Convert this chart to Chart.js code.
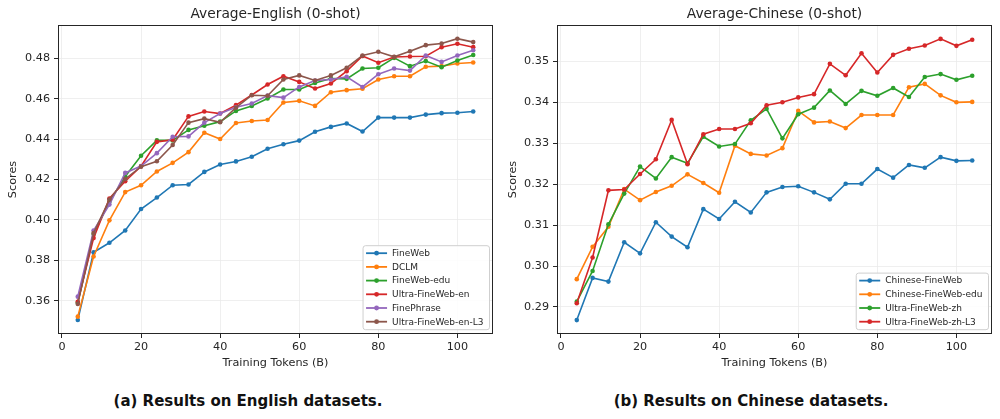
<!DOCTYPE html>
<html>
<head>
<meta charset="utf-8">
<script src="https://cdn.jsdelivr.net/npm/chart.js@4.4.1/dist/chart.umd.min.js"></script>
<style>
  body { margin: 0; background: #fff; width: 1000px; height: 419px; position: relative; overflow: hidden; }
  .panel { position: absolute; top: 0; width: 500px; height: 370px; }
  .caption { position: absolute; top: 392px; width: 500px; text-align: center;
             font: bold 15px "DejaVu Sans", sans-serif; color: #111; }
</style>
</head>
<body>
<div class="panel" style="left:0"><canvas id="enChart" width="500" height="370"></canvas></div>
<div class="panel" style="left:500px"><canvas id="zhChart" width="500" height="370"></canvas></div>
<div class="caption" style="left:-2px">(a) Results on English datasets.</div>
<div class="caption" style="left:501px">(b) Results on Chinese datasets.</div>
<script>
// training tokens (B) at each checkpoint
const tokens = [4, 8, 12, 16, 20, 24, 28, 32, 36, 40, 44, 48, 52, 56, 60, 64, 68, 72, 76, 80, 84, 88, 92, 96, 100, 104];
const xTicks = [0, 20, 40, 60, 80, 100];

// ---- English ----
const enNames = ["FineWeb", "DCLM", "FineWeb-edu", "Ultra-FineWeb-en", "FinePhrase", "Ultra-FineWeb-en-L3"];
const fineWeb = [0.3504, 0.3840, 0.3887, 0.3948, 0.4054, 0.4111, 0.4172, 0.4176, 0.4238, 0.4275, 0.4290, 0.4313, 0.4353, 0.4375, 0.4393, 0.4437, 0.4461, 0.4478, 0.4438, 0.4507, 0.4507, 0.4507, 0.4522, 0.4529, 0.4531, 0.4537];
const dclm = [0.3521, 0.3819, 0.3998, 0.4138, 0.4172, 0.4240, 0.4283, 0.4336, 0.4432, 0.4401, 0.4480, 0.4490, 0.4495, 0.4582, 0.4590, 0.4565, 0.4633, 0.4643, 0.4650, 0.4696, 0.4712, 0.4712, 0.4759, 0.4762, 0.4775, 0.4780];
const fineWebEdu = [0.3590, 0.3930, 0.4090, 0.4215, 0.4318, 0.4394, 0.4394, 0.4446, 0.4467, 0.4487, 0.4540, 0.4565, 0.4602, 0.4646, 0.4646, 0.4679, 0.4701, 0.4699, 0.4750, 0.4754, 0.4803, 0.4762, 0.4787, 0.4757, 0.4790, 0.4817];
const ultraEn = [0.3595, 0.3910, 0.4106, 0.4192, 0.4266, 0.4387, 0.4397, 0.4513, 0.4537, 0.4527, 0.4569, 0.4619, 0.4671, 0.4712, 0.4684, 0.4651, 0.4676, 0.4737, 0.4812, 0.4779, 0.4807, 0.4810, 0.4811, 0.4856, 0.4873, 0.4856];
const finePhrase = [0.3620, 0.3948, 0.4076, 0.4233, 0.4267, 0.4331, 0.4412, 0.4414, 0.4482, 0.4527, 0.4558, 0.4577, 0.4616, 0.4606, 0.4659, 0.4691, 0.4696, 0.4709, 0.4659, 0.4722, 0.4750, 0.4740, 0.4815, 0.4783, 0.4815, 0.4841];
const ultraEnL3 = [0.3584, 0.3935, 0.4101, 0.4203, 0.4264, 0.4291, 0.4371, 0.4482, 0.4502, 0.4484, 0.4556, 0.4618, 0.4615, 0.4696, 0.4716, 0.4691, 0.4716, 0.4754, 0.4815, 0.4833, 0.4808, 0.4836, 0.4866, 0.4874, 0.4898, 0.4881];
const enYTicks = [0.36, 0.38, 0.40, 0.42, 0.44, 0.46, 0.48];

// ---- Chinese ----
const zhNames = ["Chinese-FineWeb", "Chinese-FineWeb-edu", "Ultra-FineWeb-zh", "Ultra-FineWeb-zh-L3"];
const chineseFineWeb = [0.2868, 0.2971, 0.2962, 0.3058, 0.3031, 0.3107, 0.3072, 0.3046, 0.3139, 0.3115, 0.3157, 0.3131, 0.3180, 0.3193, 0.3195, 0.3180, 0.3163, 0.3201, 0.3201, 0.3237, 0.3216, 0.3247, 0.3240, 0.3266, 0.3257, 0.3258];
const chineseFineWebEdu = [0.2968, 0.3047, 0.3096, 0.3188, 0.3161, 0.3181, 0.3196, 0.3224, 0.3203, 0.3179, 0.3294, 0.3274, 0.3270, 0.3288, 0.3379, 0.3351, 0.3353, 0.3337, 0.3369, 0.3369, 0.3369, 0.3437, 0.3445, 0.3417, 0.3400, 0.3401];
const ultraZh = [0.2913, 0.2988, 0.3102, 0.3177, 0.3243, 0.3214, 0.3266, 0.3251, 0.3316, 0.3292, 0.3298, 0.3356, 0.3384, 0.3312, 0.3371, 0.3387, 0.3429, 0.3396, 0.3428, 0.3416, 0.3435, 0.3413, 0.3462, 0.3469, 0.3455, 0.3465];
const ultraZhL3 = [0.2909, 0.3021, 0.3185, 0.3187, 0.3225, 0.3261, 0.3357, 0.3249, 0.3322, 0.3335, 0.3335, 0.3349, 0.3393, 0.3400, 0.3412, 0.3420, 0.3494, 0.3466, 0.3520, 0.3473, 0.3516, 0.3531, 0.3539, 0.3555, 0.3538, 0.3553];
const zhYTicks = [0.29, 0.30, 0.31, 0.32, 0.33, 0.34, 0.35];

const colors = ["#1f77b4", "#ff7f0e", "#2ca02c", "#d62728", "#9467bd", "#8c564b"];
const FONT = '"DejaVu Sans", sans-serif';
const INK = "#262626";

// full box around the plot, like matplotlib spines
const framePlugin = {
    id: "frame",
    afterDatasetsDraw(chart) {
        const { ctx, chartArea: a } = chart;
        const l = Math.round(a.left) + 0.5, t = Math.round(a.top) + 0.5;
        const r = Math.round(a.right) - 0.5, b = Math.round(a.bottom) - 0.5;
        ctx.save();
        ctx.strokeStyle = INK;
        ctx.lineWidth = 1;
        ctx.strokeRect(l, t, r - l, b - t);
        ctx.restore();
    }
};

// legend box in the lower right corner of the plot
const cornerLegend = {
    id: "cornerLegend",
    afterDraw(chart) {
        const { ctx, chartArea: a } = chart;
        const sets = chart.data.datasets;
        ctx.save();
        ctx.font = "9px " + FONT;
        const textW = Math.max(...sets.map(d => ctx.measureText(d.label).width));
        const rowH = 13.7;
        const w = 29 + textW + 6;
        const h = 15.5 + (sets.length - 1) * rowH;
        const x0 = a.right - 3.5 - w;
        const y0 = a.bottom - 4.3 - h;

        ctx.beginPath();
        ctx.roundRect(x0, y0, w, h, 2.5);
        ctx.fillStyle = "rgba(255,255,255,0.85)";
        ctx.fill();
        ctx.strokeStyle = "#cfcfcf";
        ctx.lineWidth = 1;
        ctx.stroke();

        sets.forEach((d, i) => {
            const y = y0 + 7.5 + i * rowH;
            ctx.strokeStyle = d.borderColor;
            ctx.lineWidth = 1.8;
            ctx.beginPath();
            ctx.moveTo(x0 + 3, y);
            ctx.lineTo(x0 + 24, y);
            ctx.stroke();
            ctx.fillStyle = d.borderColor;
            ctx.beginPath();
            ctx.arc(x0 + 13.5, y, 2.4, 0, Math.PI * 2);
            ctx.fill();
            ctx.fillStyle = INK;
            ctx.textBaseline = "middle";
            ctx.fillText(d.label, x0 + 29, y + 0.5);
        });
        ctx.restore();
    }
};

function makeChart(id, title, names, series, yTicks, yMin, yMax, yWidth, padRight) {
    const datasets = series.map((vals, i) => ({
        label: names[i],
        data: tokens.map((t, j) => ({ x: t, y: vals[j] })),
        borderColor: colors[i],
        backgroundColor: colors[i],
        pointBackgroundColor: colors[i],
        pointBorderWidth: 0,
        pointRadius: 2.3,
        borderWidth: 1.6,
        tension: 0,
        order: series.length - i
    }));

    return new Chart(document.getElementById(id), {
        type: "line",
        data: { datasets },
        plugins: [framePlugin, cornerLegend],
        options: {
            responsive: false,
            animation: false,
            layout: { padding: { left: 0, right: padRight, top: 0, bottom: 0 } },
            plugins: {
                legend: { display: false },
                tooltip: { enabled: false },
                title: {
                    display: true,
                    text: title,
                    fullSize: false,
                    color: INK,
                    font: { family: FONT, size: 13.8, weight: "normal" },
                    padding: { top: 6.2, bottom: 2.2 }
                }
            },
            scales: {
                x: {
                    type: "linear",
                    min: -1,
                    max: 109,
                    afterBuildTicks: s => { s.ticks = xTicks.map(v => ({ value: v })); },
                    afterFit: s => { s.height = 36; },
                    grid: { color: "#ebebeb", lineWidth: 0.8, tickColor: INK, tickLength: 4, tickWidth: 1 },
                    border: { display: false },
                    ticks: { color: INK, padding: 2, maxRotation: 0, font: { family: FONT, size: 11.2 } },
                    title: {
                        display: true,
                        text: "Training Tokens (B)",
                        color: INK,
                        font: { family: FONT, size: 11.25 },
                        padding: { top: 0, bottom: 0 }
                    }
                },
                y: {
                    type: "linear",
                    min: yMin,
                    max: yMax,
                    afterBuildTicks: s => { s.ticks = yTicks.map(v => ({ value: v })); },
                    afterFit: s => { s.width = yWidth; },
                    grid: { color: "#ebebeb", lineWidth: 0.8, tickColor: INK, tickLength: 4, tickWidth: 1 },
                    border: { display: false },
                    ticks: {
                        color: INK,
                        padding: 4,
                        font: { family: FONT, size: 11.2 },
                        callback: v => v.toFixed(2)
                    },
                    title: {
                        display: true,
                        text: "Scores",
                        color: INK,
                        font: { family: FONT, size: 11.25 },
                        padding: { top: 6.8, bottom: 0 }
                    }
                }
            }
        }
    });
}

makeChart("enChart", "Average-English (0-shot)", enNames,
    [fineWeb, dclm, fineWebEdu, ultraEn, finePhrase, ultraEnL3],
    enYTicks, 0.3435, 0.4966, 58, 7);

makeChart("zhChart", "Average-Chinese (0-shot)", zhNames,
    [chineseFineWeb, chineseFineWebEdu, ultraZh, ultraZhL3],
    zhYTicks, 0.2834, 0.3589, 57, 8);
</script>
</body>
</html>
